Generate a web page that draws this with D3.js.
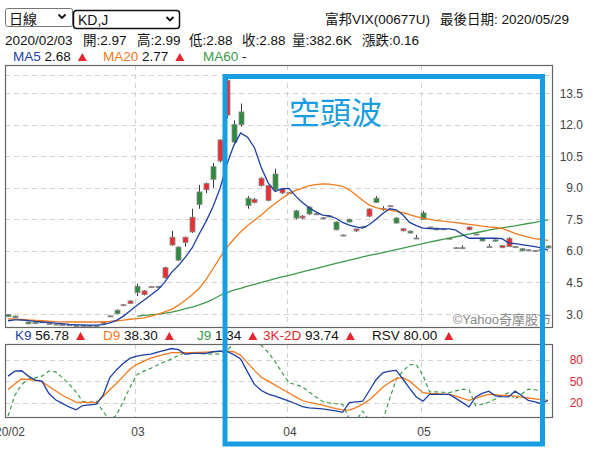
<!DOCTYPE html>
<html><head><meta charset="utf-8">
<script src="https://cdn.jsdelivr.net/npm/d3@7/dist/d3.min.js"></script>
<style>html,body{margin:0;padding:0;background:#fff;overflow:hidden}svg{display:block}</style>
</head><body><svg id="chart" width="600" height="452"></svg>
<script>
// ---------------- DATA ----------------
const dates = ["02/03","02/04","02/05","02/06","02/07","02/10","02/11","02/12","02/13","02/14","02/17","02/18","02/19","02/20","02/21","02/24","02/25","02/26","02/27",
"03/02","03/03","03/04","03/05","03/06","03/09","03/10","03/11","03/12","03/13","03/16","03/17","03/18","03/19","03/20","03/23","03/24","03/25","03/26","03/27","03/30","03/31",
"04/01","04/06","04/07","04/08","04/09","04/10","04/13","04/14","04/15","04/16","04/17","04/20","04/21","04/22","04/23","04/24","04/27","04/28","04/29","04/30",
"05/04","05/05","05/06","05/07","05/08","05/11","05/12","05/13","05/14","05/15","05/18","05/19","05/20","05/21","05/22","05/25","05/26","05/27","05/28","05/29"];

const openP = [2.97,2.90,2.74,2.62,2.60,2.61,2.55,2.52,2.50,2.49,2.45,2.44,2.45,2.43,2.55,2.90,3.18,3.42,3.50,
4.32,3.92,4.28,4.30,4.72,6.28,6.18,6.40,6.90,8.80,8.90,10.00,10.27,12.45,12.00,12.60,8.50,8.30,9.10,8.40,9.65,8.75,
8.75,7.90,7.56,8.08,7.75,7.56,7.65,7.37,6.75,7.50,6.95,7.15,7.65,8.50,8.00,8.12,7.56,6.95,6.94,6.60,
7.80,7.13,7.08,7.04,6.60,6.14,6.14,7.00,6.80,6.60,6.20,6.52,6.15,6.20,6.20,6.10,6.04,6.02,6.07,6.23];
const highP = [2.99,2.92,2.76,2.63,2.62,2.66,2.58,2.53,2.51,2.50,2.46,2.46,2.46,2.45,2.64,2.94,3.22,3.47,3.66,
4.45,4.13,4.33,4.34,5.25,6.95,6.22,6.68,8.00,9.13,9.25,10.17,11.30,14.20,12.20,13.00,8.60,8.52,9.50,9.12,9.90,8.96,
8.80,7.95,7.70,8.12,7.80,7.60,7.70,7.40,6.78,7.53,7.06,7.20,8.02,8.60,8.12,8.17,7.60,7.08,6.96,6.76,
7.90,7.16,7.10,7.07,6.62,6.17,6.26,7.16,6.82,6.62,6.32,6.54,6.27,6.65,6.22,6.12,6.07,6.04,6.09,6.25];
const lowP = [2.88,2.80,2.72,2.52,2.52,2.60,2.50,2.48,2.47,2.44,2.41,2.42,2.43,2.42,2.54,2.87,2.98,3.40,3.48,
3.85,3.88,4.26,4.27,4.68,6.24,5.52,6.20,6.85,8.00,8.75,9.00,10.20,12.30,11.10,11.90,8.00,8.25,9.05,8.35,8.85,8.70,
8.70,7.50,7.50,7.70,7.70,7.50,7.60,6.98,6.72,7.35,6.90,7.10,7.60,8.28,7.90,8.10,7.30,6.93,6.82,6.58,
7.48,7.10,6.98,7.02,6.57,6.12,6.12,6.98,6.77,6.45,6.18,6.44,6.13,6.18,6.17,5.98,6.02,5.96,6.03,6.12];
const closeP = [2.88,2.82,2.73,2.53,2.54,2.63,2.54,2.50,2.49,2.45,2.42,2.45,2.44,2.44,2.62,2.91,3.02,3.44,3.62,
4.02,4.10,4.30,4.31,5.20,6.65,5.56,6.65,7.60,8.20,9.20,9.40,11.27,14.10,11.17,12.00,8.15,8.45,9.45,9.10,8.90,8.93,
8.76,7.56,7.65,7.75,7.76,7.57,7.66,7.00,6.75,7.37,7.04,7.12,7.99,8.30,8.02,8.14,7.32,7.05,6.85,6.61,
7.50,7.12,7.00,7.05,6.59,6.15,6.15,7.13,6.79,6.47,6.21,6.46,6.25,6.60,6.19,6.00,6.05,5.98,6.05,6.14];

const ma5 = [2.68,2.72,2.72,2.69,2.65,2.62,2.60,2.57,2.54,2.51,2.49,2.48,2.47,2.47,2.50,2.58,2.70,2.90,3.15,
3.42,3.65,3.90,4.15,4.50,4.98,5.30,5.70,6.15,6.80,7.40,8.10,8.95,10.10,11.00,11.60,11.40,10.90,9.95,9.22,8.82,8.95,
8.97,8.60,8.30,8.05,7.85,7.70,7.66,7.55,7.35,7.22,7.14,7.08,7.25,7.50,7.78,8.00,7.95,7.70,7.35,7.20,
7.08,7.06,7.04,7.04,7.04,6.98,6.78,6.60,6.60,6.60,6.60,6.60,6.58,6.38,6.34,6.30,6.25,6.20,6.14,6.04];
const ma20 = [2.77,2.76,2.74,2.72,2.70,2.68,2.66,2.64,2.63,2.62,2.62,2.62,2.62,2.62,2.63,2.65,2.68,2.71,2.75,
2.78,2.82,2.90,2.98,3.10,3.22,3.42,3.65,3.92,4.22,4.65,5.15,5.68,6.15,6.55,6.90,7.20,7.45,7.70,8.00,8.25,8.50,
8.72,8.87,8.98,9.10,9.15,9.18,9.17,9.12,9.06,8.90,8.65,8.40,8.17,8.05,7.98,7.94,7.88,7.82,7.72,7.63,
7.55,7.50,7.45,7.41,7.38,7.34,7.30,7.26,7.22,7.18,7.14,7.11,7.07,6.95,6.83,6.73,6.65,6.58,6.54,6.50];
const ma60 = [null,null,null,null,null,null,null,null,null,null,null,null,null,null,null,null,null,null,null,
2.90,2.93,2.96,2.99,3.03,3.09,3.16,3.25,3.33,3.43,3.55,3.70,3.88,4.02,4.13,4.22,4.32,4.41,4.50,4.59,4.68,4.76,
4.84,4.92,5.00,5.08,5.16,5.24,5.32,5.40,5.48,5.56,5.63,5.71,5.78,5.85,5.92,5.99,6.06,6.13,6.20,6.27,
6.34,6.42,6.48,6.55,6.61,6.67,6.73,6.80,6.86,6.92,6.98,7.04,7.09,7.14,7.19,7.25,7.30,7.35,7.41,7.47];

const kVals = [57,64,64.5,57,51.5,50,33,24,19,14,10,16,17,18,30,55,66,75,82,
85,86.5,87.8,90.5,93,95.5,94,87.5,88.6,88.6,88.6,91,92,91.5,87,81,63,45.5,37,32,29,25.5,
22,18.5,14.5,12.8,12,11.2,10,8.5,6.5,20,21,22,37,52,61.5,64,65,53,40,28,
22,31.6,31.6,31.6,31.6,26,20,14,28,33,36,29.5,28.5,28,36,30,23,21,18.5,23];
const dVals = [38.3,46,53,52.3,51.3,49,43,36.5,30.3,25.5,20.8,20.5,20.3,20,28.5,38,47,57,67,
73.5,78,82,85,87.5,89.7,89.7,89.7,89.7,90,90.5,91,91.5,92,91,86,75.5,65,55.5,50,44.5,39,
33.5,28,23,20.5,18.5,16.5,14,11.8,10,9.5,13,18,24,32.5,41.5,48,54,55,50,42,
34,33,32.5,32,31.6,29,26,23.3,26,29,31.6,31,30.3,29.8,29,27.8,26.5,25.3,24.2,23];
const jVals = [1.34,30,45,53,54.5,57,64,63,55,46,35,22,20.5,22,8,-5,3,22,42,
59,64,68,72.5,77,81,86,89.5,89,88.5,88,87.6,88,93,102,104,104,103,100,90,77,62,
48,45,42,35,28,22,19.5,18.5,17.5,-3,-5,8,-5,-10,-5,25,52,64,73,73,
58,35,35,34.5,34,36.5,38.8,38,16,18,20.5,25,30,34,25,32,39,38,36,34];

const priceTicks = [3.0,4.5,6.0,7.5,9.0,10.5,12.0,13.5];
const kdTicks = [20,50,80];
const monthTickDates = ["02/03","03/02","04/01","05/04"];
const monthTickLabels = ["2020/02","03","04","05"];

const stockTitle = "富邦VIX(00677U)";
const lastDateText = "最後日期: 2020/05/29";
const infoItems = ["2020/02/03","開:2.97","高:2.99","低:2.88","收:2.88","量:382.6K","漲跌:0.16"];
const maLegend = [["MA5","2.68",true],["MA20","2.77",true],["MA60","-",false]];
const kdLegend = [["K9","56.78"],["D9","38.30"],["J9","1.34"],["3K-2D","93.74"],["RSV","80.00"]];
const annotation = "空頭波";
const watermark = "©Yahoo奇摩股市";

// ---------------- LAYOUT ----------------
const FONT = 'Arial, "Liberation Sans", "Noto Sans CJK TC", sans-serif';
const CJK = '"Noto Sans CJK TC", "Noto Sans CJK SC", sans-serif';
const C = {blue:"#1d3fa3", orange:"#f27a1c", green:"#3d9a4a", red:"#e3262f",
  candleUp:"#ea2e34", candleDown:"#2d8a3e", grid:"#d2d2d2", frame:"#666", annot:"#199de1"};
const main = {l:5, r:552, t:65, b:327, plotTop:75};
const kd = {l:5, r:552, t:344, b:417};

const svg = d3.select("#chart").attr("font-family", FONT);

const anchorIdx = monthTickDates.map(d => dates.indexOf(d)).concat([dates.length - 1]);
const x = d3.scaleLinear().domain(anchorIdx).range([8, 137, 289, 423, 548]);
const y = d3.scaleLinear().domain([3.0, 13.5]).range([314, 93]);
const yk = d3.scaleLinear().domain([0, 100]).range([417, 345.3]);

const defs = svg.append("defs");
defs.append("clipPath").attr("id","clipMain").append("rect")
  .attr("x", main.l).attr("y", main.t).attr("width", main.r-main.l).attr("height", main.b-main.t);
defs.append("clipPath").attr("id","clipKD").append("rect")
  .attr("x", kd.l).attr("y", kd.t).attr("width", kd.r-kd.l).attr("height", kd.b-kd.t);

// ---------------- HEADER ----------------
const hdr = svg.append("g");
hdr.append("rect").attr("x",5.5).attr("y",8.5).attr("width",67).attr("height",18).attr("rx",2)
  .attr("fill","#fff").attr("stroke","#767676");
hdr.append("text").attr("x",9).attr("y",23.5).attr("font-size",14).attr("font-family",CJK).attr("fill","#111").text("日線");
hdr.append("path").attr("d","M58.5,14.5 L62,18 L65.5,14.5").attr("fill","none").attr("stroke","#111").attr("stroke-width",1.8);
hdr.append("rect").attr("x",73.5).attr("y",10.5).attr("width",106).attr("height",18).attr("rx",3)
  .attr("fill","#fff").attr("stroke","#111").attr("stroke-width",1.5);
hdr.append("text").attr("x",78).attr("y",25).attr("font-size",14).attr("fill","#111").text("KD,J");
hdr.append("path").attr("d","M166.5,17 L170,20.5 L173.5,17").attr("fill","none").attr("stroke","#111").attr("stroke-width",1.8);
hdr.append("text").attr("x",325).attr("y",24).attr("font-size",13.5).attr("fill","#111").text(stockTitle);
hdr.append("text").attr("x",440).attr("y",24).attr("font-size",13.5).attr("fill","#111").text(lastDateText);
const infoX = [5,83,137,189,242,292,362];
infoItems.forEach((t,i)=>hdr.append("text").attr("x",infoX[i]).attr("y",45).attr("font-size",13.5).attr("fill","#111").text(t));

function tri(g, x0, yb){
  g.append("path").attr("d",`M${x0},${yb} L${x0+9},${yb} L${x0+4.5},${yb-8} Z`).attr("fill",C.red);
}
function legendItem(g, x0, yb, label, color, value, withTri){
  const t = g.append("text").attr("x",x0).attr("y",yb).attr("font-size",13.5);
  t.append("tspan").attr("fill",color).text(label);
  t.append("tspan").attr("fill","#111").text(" " + value);
  if (withTri) tri(g, x0 + t.node().getComputedTextLength() + 7, yb);
}
const maColors = [C.blue, C.orange, C.green];
const maX = [13,103,203];
maLegend.forEach((m,i)=>legendItem(hdr, maX[i], 61, m[0], maColors[i], m[1], m[2]));

// ---------------- MAIN PANEL ----------------
const gm = svg.append("g");
gm.selectAll("line.hg").data(priceTicks).join("line")
  .attr("x1",main.l).attr("x2",main.r).attr("y1",d=>Math.round(y(d))+0.5).attr("y2",d=>Math.round(y(d))+0.5)
  .attr("stroke",C.grid).attr("stroke-dasharray","5,4");
gm.append("line").attr("x1",main.l).attr("x2",main.r).attr("y1",main.plotTop+0.5).attr("y2",main.plotTop+0.5)
  .attr("stroke",C.grid).attr("stroke-dasharray","5,4");
const monthIdx = monthTickDates.map(d=>dates.indexOf(d)).slice(1);
gm.selectAll("line.vg").data(monthIdx).join("line")
  .attr("x1",d=>Math.round(x(d))-1.5).attr("x2",d=>Math.round(x(d))-1.5).attr("y1",main.t).attr("y2",main.b)
  .attr("stroke",C.grid).attr("stroke-dasharray","5,4");

const candles = dates.map((d,i)=>({i,o:openP[i],h:highP[i],l:lowP[i],c:closeP[i]}));
const gc = gm.append("g").attr("clip-path","url(#clipMain)");
gc.selectAll("line.wick").data(candles).join("line")
  .attr("x1",d=>Math.round(x(d.i))+0.5).attr("x2",d=>Math.round(x(d.i))+0.5)
  .attr("y1",d=>y(d.h)).attr("y2",d=>y(d.l)).attr("stroke","#3a3a3a").attr("stroke-width",1);
gc.selectAll("rect.body").data(candles).join("rect")
  .attr("x",d=>Math.round(x(d.i))-2).attr("width",5)
  .attr("y",d=>y(Math.max(d.o,d.c))).attr("height",d=>Math.max(1,Math.abs(y(d.o)-y(d.c))))
  .attr("fill",d=>d.c>d.o+0.015?C.candleUp:(d.c<d.o-0.015?C.candleDown:"#555"))
  .attr("stroke","#8a8a8a").attr("stroke-width",0.8);

const lineMain = d3.line().defined(d=>d!=null).x((d,i)=>x(i)).y(d=>y(d)).curve(d3.curveLinear);
[[ma60,C.green],[ma20,C.orange],[ma5,C.blue]].forEach(([arr,col])=>{
  gc.append("path").datum(arr).attr("d",lineMain).attr("fill","none").attr("stroke",col).attr("stroke-width",1.3);
});

gm.append("rect").attr("x",main.l+0.5).attr("y",main.t+0.5).attr("width",main.r-main.l).attr("height",main.b-main.t)
  .attr("fill","none").attr("stroke",C.frame).attr("stroke-width",1.2);
gm.append("text").attr("x",main.r-1).attr("y",main.b-3).attr("text-anchor","end").attr("font-size",13)
  .attr("fill","#888").text(watermark);
gm.selectAll("text.pl").data(priceTicks).join("text")
  .attr("x",583).attr("y",d=>y(d)+4.5).attr("text-anchor","end").attr("font-size",12).attr("fill","#444")
  .text(d=>d.toFixed(1));

// ---------------- KD PANEL ----------------
const gk = svg.append("g");
const kdColors = [C.blue, C.orange, C.green, C.red, "#111"];
const kdX = [15,103,197,263,372];
kdLegend.forEach((m,i)=>legendItem(gk, kdX[i], 340, m[0], kdColors[i], m[1], true));

gk.selectAll("line.khg").data(kdTicks).join("line")
  .attr("x1",kd.l).attr("x2",kd.r).attr("y1",d=>Math.round(yk(d))+0.5).attr("y2",d=>Math.round(yk(d))+0.5)
  .attr("stroke",C.grid).attr("stroke-dasharray","5,4");
gk.selectAll("line.kvg").data(monthIdx).join("line")
  .attr("x1",d=>Math.round(x(d))-1.5).attr("x2",d=>Math.round(x(d))-1.5).attr("y1",kd.t).attr("y2",kd.b)
  .attr("stroke",C.grid).attr("stroke-dasharray","5,4");
const gkc = gk.append("g").attr("clip-path","url(#clipKD)");
const lineKD = d3.line().x((d,i)=>x(i)).y(d=>yk(d));
gkc.append("path").datum(jVals).attr("d",lineKD).attr("fill","none").attr("stroke",C.green).attr("stroke-width",1.2).attr("stroke-dasharray","4,3");
gkc.append("path").datum(dVals).attr("d",lineKD).attr("fill","none").attr("stroke",C.orange).attr("stroke-width",1.3);
gkc.append("path").datum(kVals).attr("d",lineKD).attr("fill","none").attr("stroke",C.blue).attr("stroke-width",1.3);
gk.append("rect").attr("x",kd.l+0.5).attr("y",kd.t+0.5).attr("width",kd.r-kd.l).attr("height",kd.b-kd.t)
  .attr("fill","none").attr("stroke",C.frame).attr("stroke-width",1.2);
gk.selectAll("text.kl").data(kdTicks).join("text")
  .attr("x",583).attr("y",d=>yk(d)+4.5).attr("text-anchor","end").attr("font-size",12).attr("fill","#d8283a")
  .text(d=>d);
const tickIdxAll = monthTickDates.map(d=>dates.indexOf(d));
gk.selectAll("text.ml").data(tickIdxAll).join("text")
  .attr("x",(d,i)=> i===0 ? x(d)+17 : x(d)+1)
  .attr("y",436).attr("text-anchor",(d,i)=> i===0 ? "end" : "middle")
  .attr("font-size",12).attr("fill","#444").text((d,i)=>monthTickLabels[i]);

// ---------------- ANNOTATION ----------------
const ga = svg.append("g");
ga.append("rect").attr("x",225).attr("y",76.5).attr("width",317.5).attr("height",367.5)
  .attr("fill","none").attr("stroke",C.annot).attr("stroke-width",5);
ga.append("text").attr("x",289).attr("y",124).attr("font-size",31).attr("font-family",CJK)
  .attr("fill",C.annot).text(annotation);
</script></body></html>
